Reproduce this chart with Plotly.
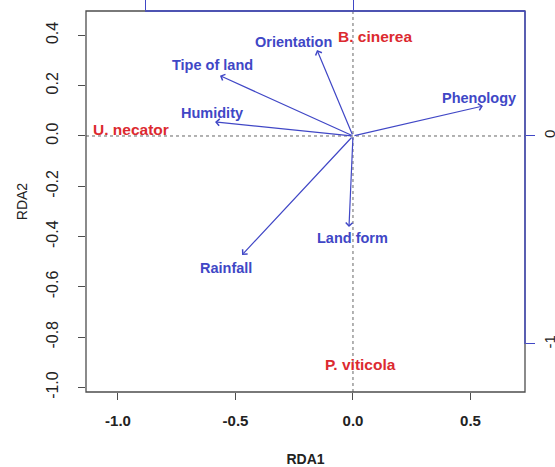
import plotly.graph_objects as go

# Environmental variable vectors (RDA biplot scores)
variables = ["Phenology", "Orientation", "Tipe of land", "Humidity", "Rainfall", "Land form"]
var_rda1 = [0.553, -0.153, -0.566, -0.587, -0.472, -0.017]
var_rda2 = [0.119, 0.342, 0.240, 0.056, -0.473, -0.362]
# label anchor positions for the vectors
lab_rda1 = [0.536, -0.255, -0.596, -0.600, -0.540, 0.000]
lab_rda2 = [0.151, 0.372, 0.282, 0.091, -0.525, -0.405]

# Species scores
species = ["B. cinerea", "U. necator", "P. viticola"]
sp_rda1 = [0.094, -0.945, 0.030]
sp_rda2 = [0.394, 0.024, -0.910]

x_ticks = [-1.0, -0.5, 0.0, 0.5]
x_ticklabels = ["-1.0", "-0.5", "0.0", "0.5"]
y_ticks = [0.4, 0.2, 0.0, -0.2, -0.4, -0.6, -0.8, -1.0]
y_ticklabels = ["0.4", "0.2", "0.0", "-0.2", "-0.4", "-0.6", "-0.8", "-1.0"]
sec_ticks = [-1, 0]

X_RANGE = [-1.136, 0.732]
Y_RANGE = [-1.018, 0.497]
X2_RANGE = [-1.284, 0.827]
Y2_RANGE = [-1.231, 0.601]

BLUE = "#4047c6"
RED = "#dc2a30"
FRAME = "#4d4d4d"
FONT = "Liberation Sans, Arial, sans-serif"

fig = go.Figure()

# invisible traces so that both axis pairs are active
fig.add_trace(go.Scatter(x=sp_rda1, y=sp_rda2, mode="markers",
                         marker=dict(opacity=0), hoverinfo="skip", showlegend=False))
fig.add_trace(go.Scatter(x=[0], y=[0], xaxis="x2", yaxis="y2", mode="markers",
                         marker=dict(opacity=0), hoverinfo="skip", showlegend=False))

shapes = [
    # dotted origin lines
    dict(type="line", xref="paper", yref="y", x0=0, x1=1, y0=0, y1=0,
         line=dict(color="#666666", width=1, dash="dot")),
    dict(type="line", xref="x", yref="paper", x0=0, x1=0, y0=0, y1=1,
         line=dict(color="#666666", width=1, dash="dot")),
    # plot frame
    dict(type="rect", xref="paper", yref="paper", x0=0, x1=1, y0=0, y1=1,
         line=dict(color=FRAME, width=1.3)),
    # secondary (species) axis lines
    dict(type="line", xref="x2", yref="paper", x0=sec_ticks[0], x1=X2_RANGE[1], y0=1, y1=1,
         line=dict(color=BLUE, width=1.3)),
    dict(type="line", xref="paper", yref="y2", x0=1, x1=1, y0=sec_ticks[0], y1=Y2_RANGE[1],
         line=dict(color=BLUE, width=1.3)),
]

annotations = []
# vectors from the origin
for name, x, y in zip(variables, var_rda1, var_rda2):
    annotations.append(dict(
        x=x, y=y, ax=0, ay=0, xref="x", yref="y", axref="x", ayref="y",
        text="", showarrow=True, arrowhead=4, arrowsize=1.1, arrowwidth=1.2,
        arrowcolor=BLUE, standoff=0))
# vector labels
for name, x, y in zip(variables, lab_rda1, lab_rda2):
    annotations.append(dict(
        x=x, y=y, xref="x", yref="y", text="<b>%s</b>" % name, showarrow=False,
        font=dict(family=FONT, size=14.5, color=BLUE)))
# species labels
for name, x, y in zip(species, sp_rda1, sp_rda2):
    annotations.append(dict(
        x=x, y=y, xref="x", yref="y", text="<b>%s</b>" % name, showarrow=False,
        font=dict(family=FONT, size=15.5, color=RED)))

fig.update_layout(
    width=555, height=467,
    margin=dict(l=86, r=30, t=11, b=75),
    paper_bgcolor="white", plot_bgcolor="white",
    font=dict(family=FONT, color="#222222"),
    shapes=shapes, annotations=annotations,
    xaxis=dict(
        range=X_RANGE, showgrid=False, zeroline=False, showline=False, automargin=False,
        tickmode="array", tickvals=x_ticks,
        ticktext=["<b>%s</b>" % t for t in x_ticklabels],
        ticks="outside", ticklen=7, tickwidth=1.2, tickcolor=FRAME,
        ticklabelstandoff=8, tickfont=dict(family=FONT, size=15, color="#222222"),
        title=dict(text="<b>RDA1</b>", font=dict(family=FONT, size=14, color="#222222"),
                   standoff=27),
    ),
    yaxis=dict(
        range=Y_RANGE, showgrid=False, zeroline=False, showline=False, automargin=False,
        tickmode="array", tickvals=y_ticks, ticktext=y_ticklabels, tickangle=-90,
        ticks="outside", ticklen=7, tickwidth=1.2, tickcolor=FRAME,
        ticklabelstandoff=14, tickfont=dict(family=FONT, size=16, color="#222222"),
        title=dict(text="RDA2", font=dict(family=FONT, size=14, color="#222222"),
                   standoff=12),
    ),
    xaxis2=dict(
        range=X2_RANGE, overlaying="x", side="top", showgrid=False, zeroline=False,
        showline=False, automargin=False, tickmode="array", tickvals=sec_ticks,
        showticklabels=False,
        ticks="outside", ticklen=12, tickwidth=1.2, tickcolor=BLUE,
    ),
    yaxis2=dict(
        range=Y2_RANGE, overlaying="y", side="right", showgrid=False, zeroline=False,
        showline=False, automargin=False, tickmode="array", tickvals=sec_ticks,
        ticktext=["-1", "0"], tickangle=-90,
        ticks="outside", ticklen=9, tickwidth=1.2, tickcolor=BLUE,
        ticklabelstandoff=2, tickfont=dict(family=FONT, size=15, color="#222222"),
    ),
)

fig.write_html("out.html")
